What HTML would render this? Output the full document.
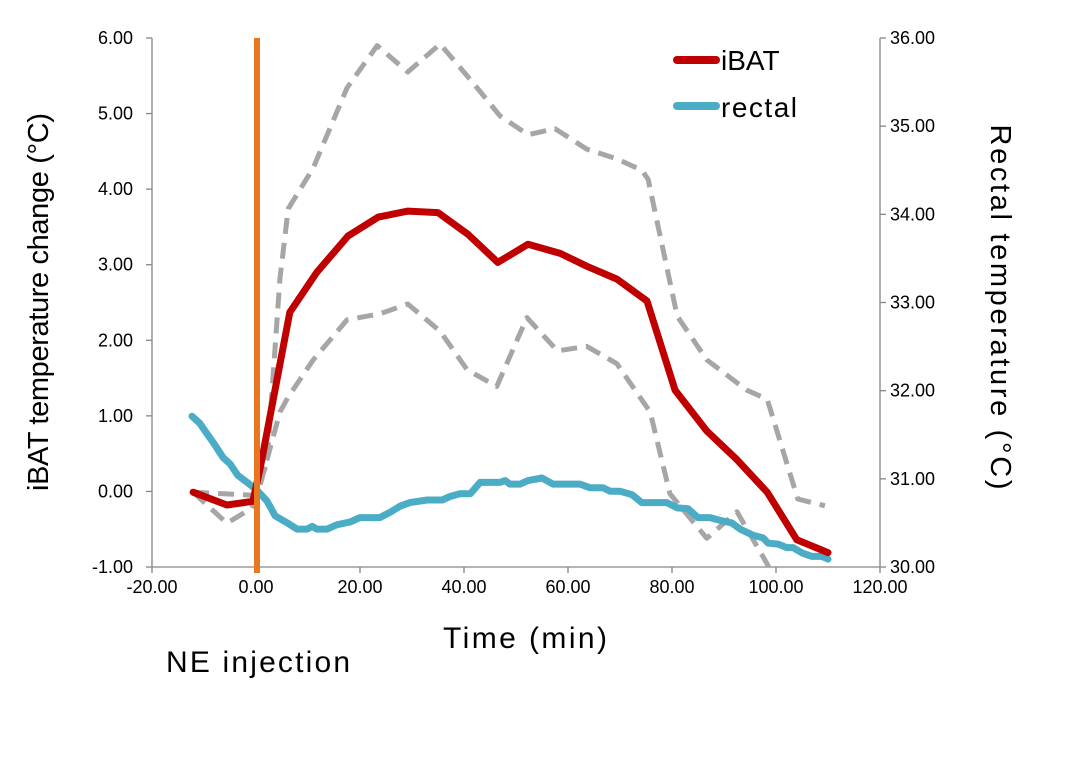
<!DOCTYPE html>
<html><head><meta charset="utf-8"><style>
body{margin:0;background:#fff}
svg{display:block;font-family:"Liberation Sans",sans-serif}
</style></head><body>
<svg id="c" width="1078" height="757" viewBox="0 0 1078 757"></svg>
<script>
const xTicks=[-20,0,20,40,60,80,100,120];
const yLeftTicks=[-1,0,1,2,3,4,5,6];
const yRightTicks=[30,31,32,33,34,35,36];
const ibatX=[-12.1,-5.6,-0.6,0.8,6.5,11.7,17.7,23.5,29.2,35,40.8,46.5,52.3,58.5,63.6,69.4,75.2,80.6,86.7,92.5,98.3,104,110];
const ibatY=[-0.01,-0.18,-0.13,0.31,2.37,2.9,3.38,3.63,3.71,3.69,3.4,3.03,3.27,3.15,2.98,2.81,2.52,1.34,0.8,0.42,-0.01,-0.64,-0.81];
const upperX=[-12.1,-0.6,2.1,4.6,6.2,11,17.5,23.3,29.2,35.4,41.8,46.9,52.3,57.5,63.6,69.4,74.2,75.4,81,86.7,94.4,98.3,104.2,109.4];
const upperY=[-0.01,-0.05,0.36,2.81,3.74,4.28,5.34,5.9,5.55,5.92,5.4,4.97,4.72,4.8,4.53,4.4,4.25,4.13,2.32,1.74,1.34,1.22,-0.1,-0.19];
const lowerX=[-12.1,-5.6,-0.8,0.2,4.6,6.2,11,17.5,23.8,29.2,35.4,40.6,46.3,52.1,58,63.6,69.4,73.8,75.8,79.6,86.7,92.5,98.3,100];
const lowerY=[-0.01,-0.42,-0.22,-0.07,1.05,1.25,1.74,2.27,2.35,2.48,2.12,1.61,1.39,2.3,1.86,1.92,1.69,1.25,1.05,-0.03,-0.62,-0.27,-0.96,-1.2];
const rectX=[-12.3,-10.8,-9.4,-8.3,-6.3,-5,-3.5,-1.7,0.2,2.1,3.7,6,7.9,9.8,10.8,11.7,13.7,15.6,18.1,20,23.8,25.8,27.7,29.6,32.9,35.8,37.3,39.2,41.2,43.1,46.9,47.9,48.8,50.8,52.3,55,57.1,62.3,64.2,66.7,68.1,70,72.3,74.2,79,81,83.1,85,87.3,89.2,91.5,93.1,95.6,97.5,98.5,100.4,102.1,103.3,105,106.9,108.8,110];
const rectY=[31.71,31.63,31.51,31.42,31.24,31.17,31.04,30.96,30.87,30.75,30.58,30.5,30.43,30.43,30.46,30.43,30.43,30.48,30.51,30.56,30.56,30.62,30.69,30.73,30.76,30.76,30.8,30.83,30.83,30.96,30.96,30.98,30.94,30.94,30.98,31.01,30.94,30.94,30.9,30.9,30.86,30.86,30.82,30.73,30.73,30.67,30.66,30.56,30.56,30.53,30.5,30.43,30.36,30.33,30.27,30.26,30.22,30.22,30.16,30.12,30.12,30.09];
const injectionX=0;

const L=152,R=880,T=38,B=567;
const sx=v=>L+(v+20)/140*(R-L);
const syL=v=>B-(v+1)/7*(B-T);
const syR=v=>B-(v-30)/6*(B-T);
const NS="http://www.w3.org/2000/svg";
const svg=document.getElementById('c');
function mk(tag,attrs,parent){const e=document.createElementNS(NS,tag);for(const k in attrs)e.setAttribute(k,attrs[k]);(parent||svg).appendChild(e);return e;}
const ax='#868686';
const defs=mk('defs',{});const cp=mk('clipPath',{id:'pc'},defs);mk('rect',{x:L-10,y:T-10,width:R-L+20,height:B-T+10},cp);
let g=mk('g',{});
mk('line',{x1:L,y1:B,x2:R,y2:B,stroke:ax,'stroke-width':1.3},g);
xTicks.forEach(t=>{const x=sx(t);mk('line',{x1:x,y1:B,x2:x,y2:B+6,stroke:ax,'stroke-width':1.3},g);
const tx=mk('text',{x:x,y:B+26,'font-size':18,'text-anchor':'middle',fill:'#000'},g);tx.textContent=t.toFixed(2);
});
g=mk('g',{});
mk('line',{x1:L,y1:T,x2:L,y2:B,stroke:ax,'stroke-width':1.3},g);
yLeftTicks.forEach(t=>{const y=syL(t);mk('line',{x1:L-6,y1:y,x2:L,y2:y,stroke:ax,'stroke-width':1.3},g);
const tx=mk('text',{x:133,y:y+6,'font-size':18,'text-anchor':'end'},g);tx.textContent=t.toFixed(2);
});
g=mk('g',{});
mk('line',{x1:R,y1:T,x2:R,y2:B,stroke:ax,'stroke-width':1.3},g);
yRightTicks.forEach(t=>{const y=syR(t);mk('line',{x1:R,y1:y,x2:R+6,y2:y,stroke:ax,'stroke-width':1.3},g);
const tx=mk('text',{x:890,y:y+6,'font-size':18,'text-anchor':'start'},g);tx.textContent=t.toFixed(2);
});
function line(xs,ys,fy,attrs,name){const d=xs.map((x,i)=>(i?'L':'M')+sx(x).toFixed(1)+' '+fy(ys[i]).toFixed(1)).join(' ');
const p=mk('path',Object.assign({d:d,fill:'none','stroke-linejoin':'round','clip-path':'url(#pc)'},attrs));
}
line(upperX,upperY,syL,{stroke:'#a6a6a6','stroke-width':5,'stroke-dasharray':'16 9'},'ibat-upper-bound');
line(lowerX,lowerY,syL,{stroke:'#a6a6a6','stroke-width':5,'stroke-dasharray':'16 9'},'ibat-lower-bound');
line(rectX,rectY,syR,{stroke:'#4bacc6','stroke-width':7,'stroke-linecap':'round'},'rectal-line');
line(ibatX,ibatY,syL,{stroke:'#c00000','stroke-width':7,'stroke-linecap':'round'},'ibat-line');
const inj=mk('line',{x1:sx(injectionX)+1,y1:T,x2:sx(injectionX)+1,y2:B+6,stroke:'#e87722','stroke-width':6});

g=mk('g',{});
mk('line',{x1:677,y1:60,x2:716,y2:60,stroke:'#c00000','stroke-width':8,'stroke-linecap':'round'},g);
let t=mk('text',{x:721,y:70,'font-size':28},g);t.textContent='iBAT';
mk('line',{x1:677,y1:106,x2:716,y2:106,stroke:'#4bacc6','stroke-width':8,'stroke-linecap':'round'},g);
t=mk('text',{x:721,y:117,'font-size':28,textLength:76},g);t.textContent='rectal';
t=mk('text',{x:0,y:0,'font-size':29,'text-anchor':'middle',textLength:378,transform:'translate(48,302) rotate(-90)'});t.textContent='iBAT temperature change (°C)';

t=mk('text',{x:0,y:0,'font-size':29,'text-anchor':'middle',textLength:365,transform:'translate(991,307) rotate(90)'});t.textContent='Rectal temperature (°C)';

t=mk('text',{x:525,y:648,'font-size':30,'text-anchor':'middle',textLength:164});t.textContent='Time (min)';

t=mk('text',{x:166,y:672,'font-size':30,textLength:184});t.textContent='NE injection';

</script>
</body></html>
